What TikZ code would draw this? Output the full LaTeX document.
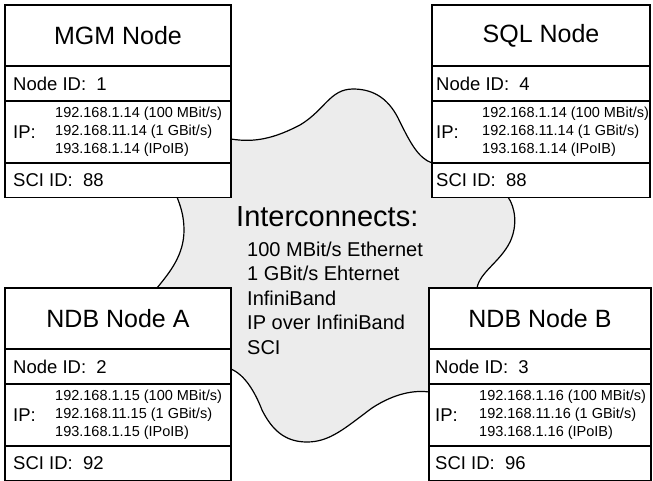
\documentclass[tikz,border=0pt]{standalone}
\usepackage{fontspec}
\setmainfont{Liberation Sans}
\newcommand\fsz[2]{\fontsize{#1}{#2}\selectfont}
\tikzset{
  cell/.style={draw, line width=1.5pt, fill=white, anchor=north west, outer sep=0pt, inner sep=0pt},
  lbl/.style={anchor=west, inner sep=0pt, font=\fsz{18.5}{22}},
  addr/.style={anchor=west, inner sep=0pt, align=left, font=\fsz{14.5}{18}},
  cloudshape/.style={draw, line width=1.2pt, fill=gray!15},
  headtext/.style={anchor=base west, inner sep=0pt, font=\fsz{29}{34}},
  listtext/.style={anchor=north west, inner sep=0pt, align=left, font=\fsz{20}{24.5}}
}
% #1 name, #2 x, #3 y, #4 width, #5 title, #6 node id, #7 ip suffix, #8 sci id, #9 text offset
\newcommand\srvbox[9]{%
  \node[cell, minimum width=#4, minimum height=61, font=\fsz{25}{30}] (#1-t) at (#2,#3) {#5};
  \node[cell, minimum width=#4, minimum height=35] (#1-i) at (#1-t.south west) {};
  \node[cell, minimum width=#4, minimum height=62] (#1-p) at (#1-i.south west) {};
  \node[cell, minimum width=#4, minimum height=34.5] (#1-s) at (#1-p.south west) {};
  \node[lbl] (#1-it) at ([xshift=#9]#1-i.west) {Node ID:\ \ #6};
  \node[lbl] (#1-pl) at ([xshift=#9]#1-p.west) {IP:};
  \node[addr] (#1-pa) at ([xshift=50]#1-p.west) {192.168.1.#7 (100 MBit/s)\\192.168.11.#7 (1 GBit/s)\\193.168.1.#7 (IPoIB)};
  \node[lbl] (#1-st) at ([xshift=#9]#1-s.west) {SCI ID:\ \ #8};
}
\begin{document}
\begin{tikzpicture}[x=1pt, y=-1pt]
\clip (0,0) rectangle (653,480);
% cloud
\path[cloudshape]
  (231,139) .. controls (255,143) and (275,138) .. (300,125)
  .. controls (325,110) and (330,89) .. (353,89)
  .. controls (375,89) and (390,100) .. (400,122)
  .. controls (410,142) and (418,158) .. (432,163)
  -- (470,180) -- (508,197)
  .. controls (515,207) and (518,225) .. (510,242)
  .. controls (500,262) and (480,272) .. (477,288)
  -- (450,340) -- (429,392)
  .. controls (415,390) and (395,393) .. (372,408)
  .. controls (345,428) and (330,442) .. (307,442)
  .. controls (285,442) and (272,430) .. (262,410)
  .. controls (255,392) and (245,375) .. (231,369)
  -- (195,330) -- (157,288)
  .. controls (170,272) and (184,255) .. (184,230)
  .. controls (184,215) and (180,205) .. (177,197)
  -- (200,170) -- cycle;
% boxes
\srvbox{mgm}{5}{5}{226}{MGM Node}{1}{14}{88}{8}
\srvbox{sql}{432}{5}{218}{SQL Node}{4}{14}{88}{4}
\srvbox{ndba}{5}{288}{226}{NDB Node A}{2}{15}{92}{8}
\srvbox{ndbb}{429}{288}{222}{NDB Node B}{3}{16}{96}{6}
% interconnects text
\node[headtext] (ichead) at (236,226) {Interconnects:};
\node[listtext] (iclist) at (247,241.5) {100 MBit/s Ethernet\\1 GBit/s Ehternet\\InfiniBand\\IP over InfiniBand\\SCI};
\end{tikzpicture}
\end{document}
